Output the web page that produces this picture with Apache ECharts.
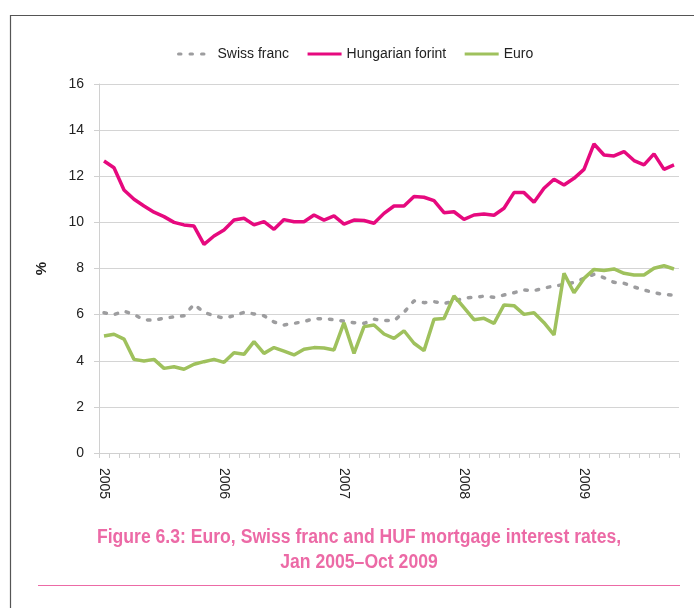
<!DOCTYPE html>
<html lang="en">
	<head>
		<meta charset="utf-8">
		<title>Euro, Swiss franc and HUF mortgage interest rates</title>
		<style>
			html, body { margin: 0; padding: 0; background: #fff; }
			#main { width: 694px; height: 608px; }
		</style>
	</head>
	<body>
		<div id="main"></div>
		<script src="https://cdn.jsdelivr.net/npm/echarts@6/dist/echarts.min.js"></script>
		<script>
			// monthly, Jan 2005 - Oct 2009
			var years = ['2005', '2006', '2007', '2008', '2009'];
			var swissFranc = [6.08, 6.0, 6.15, 6.0, 5.78, 5.75, 5.85, 5.9, 5.95, 6.45, 6.1, 5.95,
				5.85, 5.95, 6.1, 6.03, 5.95, 5.68, 5.55, 5.62, 5.7, 5.83, 5.82, 5.78,
				5.72, 5.65, 5.62, 5.8, 5.74, 5.74, 6.1, 6.6, 6.52, 6.56, 6.48, 6.58,
				6.72, 6.75, 6.8, 6.75, 6.85, 6.95, 7.07, 7.04, 7.15, 7.24, 7.3, 7.4,
				7.57, 7.75, 7.6, 7.4, 7.36, 7.2, 7.07, 6.95, 6.87, 6.85];
			var hungarianForint = [12.66, 12.37, 11.4, 11.0, 10.71, 10.44, 10.25, 10.0, 9.89, 9.84, 9.05, 9.41,
				9.67, 10.1, 10.18, 9.89, 10.03, 9.7, 10.12, 10.03, 10.03, 10.32, 10.1, 10.28,
				9.92, 10.1, 10.08, 9.96, 10.39, 10.71, 10.71, 11.12, 11.09, 10.94, 10.42, 10.46,
				10.13, 10.32, 10.36, 10.31, 10.61, 11.29, 11.29, 10.87, 11.48, 11.87, 11.62, 11.91,
				12.3, 13.4, 12.92, 12.88, 13.07, 12.68, 12.49, 12.97, 12.3, 12.49];
			var euro = [5.07, 5.15, 4.94, 4.06, 3.99, 4.06, 3.67, 3.74, 3.63, 3.85, 3.96, 4.06,
				3.93, 4.35, 4.28, 4.83, 4.32, 4.57, 4.42, 4.25, 4.5, 4.57, 4.55, 4.47,
				5.65, 4.32, 5.48, 5.55, 5.16, 4.97, 5.3, 4.76, 4.44, 5.8, 5.83, 6.81,
				6.3, 5.78, 5.84, 5.62, 6.42, 6.39, 6.01, 6.08, 5.65, 5.12, 7.79, 6.95,
				7.57, 7.96, 7.91, 7.98, 7.79, 7.72, 7.72, 8.01, 8.12, 7.98];

			var months = [];
			for(var y = 0; y < years.length; y++) {
				for(var m = 1; m <= 12; m++) {
					if(months.length < euro.length) months.push(years[y] + '-' + (m < 10 ? '0' + m : m));
				}
			}

			var narrow = "'Liberation Sans Narrow', 'Liberation Sans', sans-serif";

			option = {
				animation: false,
				textStyle: {
					fontFamily: narrow
				},
				legend: {
					top: 42,
					left: 172,
					itemWidth: 34,
					itemHeight: 8,
					itemGap: 17,
					itemStyle: {
						opacity: 0
					},
					lineStyle: {
						width: 3
					},
					textStyle: {
						fontFamily: narrow,
						fontSize: 14,
						color: '#222'
					},
					data: ['Swiss franc', 'Hungarian forint', 'Euro']
				},
				grid: {
					left: 99,
					right: 15,
					top: 84,
					bottom: 155,
					containLabel: false
				},
				xAxis: {
					type: 'category',
					data: months,
					boundaryGap: true,
					axisLine: {
						lineStyle: {
							color: '#d0d0d0'
						}
					},
					axisTick: {
						show: true,
						interval: 0,
						length: 5,
						lineStyle: {
							color: '#d0d0d0'
						}
					},
					axisLabel: {
						interval: function(index) {
							return index % 12 === 0;
						},
						formatter: function(v) {
							return v.slice(0, 4);
						},
						rotate: -90,
						margin: 15,
						color: '#222',
						fontSize: 14,
						fontFamily: narrow
					},
					splitLine: {
						show: false
					}
				},
				yAxis: {
					type: 'value',
					min: 0,
					max: 16,
					interval: 2,
					name: '%',
					nameLocation: 'middle',
					nameGap: 50,
					nameRotate: 90,
					nameTextStyle: {
						color: '#222',
						fontSize: 15,
						fontWeight: 'bold',
						fontFamily: narrow
					},
					axisLine: {
						show: true,
						lineStyle: {
							color: '#d0d0d0'
						}
					},
					axisTick: {
						show: true,
						length: 5,
						lineStyle: {
							color: '#d0d0d0'
						}
					},
					axisLabel: {
						margin: 15,
						color: '#222',
						fontSize: 14,
						fontFamily: narrow
					},
					splitLine: {
						lineStyle: {
							color: '#d4d4d4'
						}
					}
				},
				series: [{
					name: 'Swiss franc',
					type: 'line',
					data: swissFranc,
					symbol: 'none',
					color: '#9d9d9f',
					lineStyle: {
						width: 3.5,
						type: [2.5, 9],
						cap: 'round',
						color: '#9d9d9f'
					}
				}, {
					name: 'Hungarian forint',
					type: 'line',
					data: hungarianForint,
					symbol: 'none',
					color: '#e6097e',
					lineStyle: {
						width: 3.5,
						color: '#e6097e'
					}
				}, {
					name: 'Euro',
					type: 'line',
					data: euro,
					symbol: 'none',
					color: '#9fc15d',
					lineStyle: {
						width: 3.5,
						color: '#9fc15d'
					}
				}],
				graphic: [{
					type: 'rect',
					shape: { x: 10.5, y: 15.5, width: 720, height: 700 },
					style: { fill: 'none', stroke: '#555', lineWidth: 1.2 },
					silent: true
				}, {
					type: 'text',
					x: 359,
					y: 525,
					scaleX: 0.88,
					style: {
						text: 'Figure 6.3: Euro, Swiss franc and HUF mortgage interest rates,\nJan 2005\u2013Oct 2009',
						textAlign: 'center',
						fill: '#ec6aa6',
						font: 'bold 20px ' + narrow,
						lineHeight: 25
					}
				}, {
					type: 'line',
					shape: { x1: 38, y1: 585.5, x2: 680, y2: 585.5 },
					style: { stroke: '#ec6aa6', lineWidth: 1.2 },
					silent: true
				}]
			};

			var myChart = echarts.init(document.getElementById('main'));
			myChart.setOption(option);
			window.addEventListener("resize", function() {
				myChart.resize();
			});
		</script>
	</body>
</html>
